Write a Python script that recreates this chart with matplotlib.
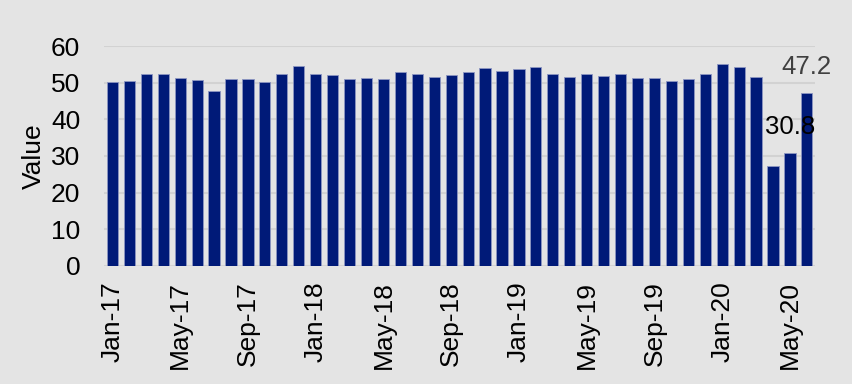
import matplotlib
matplotlib.use("Agg")
import matplotlib.pyplot as plt

months = ["Jan-17", "Feb-17", "Mar-17", "Apr-17", "May-17", "Jun-17", "Jul-17", "Aug-17", "Sep-17", "Oct-17", "Nov-17", "Dec-17",
          "Jan-18", "Feb-18", "Mar-18", "Apr-18", "May-18", "Jun-18", "Jul-18", "Aug-18", "Sep-18", "Oct-18", "Nov-18", "Dec-18",
          "Jan-19", "Feb-19", "Mar-19", "Apr-19", "May-19", "Jun-19", "Jul-19", "Aug-19", "Sep-19", "Oct-19", "Nov-19", "Dec-19",
          "Jan-20", "Feb-20", "Mar-20", "Apr-20", "May-20", "Jun-20"]
values = [50.2, 50.5, 52.3, 52.3, 51.4, 50.7, 47.7, 51.0, 51.0, 50.2, 52.4, 54.5,
          52.3, 52.0, 50.9, 51.4, 51.0, 53.0, 52.3, 51.5, 52.1, 53.0, 53.9, 53.2,
          53.7, 54.2, 52.4, 51.6, 52.5, 51.9, 52.3, 51.2, 51.2, 50.4, 51.0, 52.5,
          55.2, 54.3, 51.6, 27.2, 30.8, 47.2]
labelled = {40: "black", 41: "#404040"}

bg = "#e4e4e4"
plt.rcParams["font.family"] = ["Liberation Sans", "DejaVu Sans"]
plt.rcParams["font.size"] = 19

fig = plt.figure(figsize=(8.52, 3.84), dpi=100, facecolor=bg)
ax = fig.add_axes([0.122, 0.308, 0.835, 0.572], facecolor=bg)

x = list(range(len(values)))
ax.bar(x, values, width=0.66, color="#001a78", edgecolor="#8d96c2", linewidth=0.6, zorder=3)

for i, c in labelled.items():
    ax.annotate(f"{values[i]:.1f}", xy=(i, values[i]), xytext=(0, 19), textcoords="offset points",
                ha="center", va="center", color=c, fontsize=18.5, zorder=4)

ax.set_xlim(-0.5, len(values) - 0.5)
ax.set_ylim(0, 60)
ax.set_yticks(range(0, 61, 10))
ax.set_xticks(x[::4])
ax.set_xticklabels(months[::4], rotation=90)
ax.tick_params(axis="both", length=0, labelsize=19)
ax.tick_params(axis="x", pad=11)
ax.tick_params(axis="y", pad=17)
ax.set_ylabel("Value", fontsize=19, labelpad=4)
ax.grid(axis="y", color="#d2d2d2", linewidth=1.5, zorder=0)
for s in ax.spines.values():
    s.set_visible(False)

fig.savefig("out.png", dpi=100, facecolor=bg)
